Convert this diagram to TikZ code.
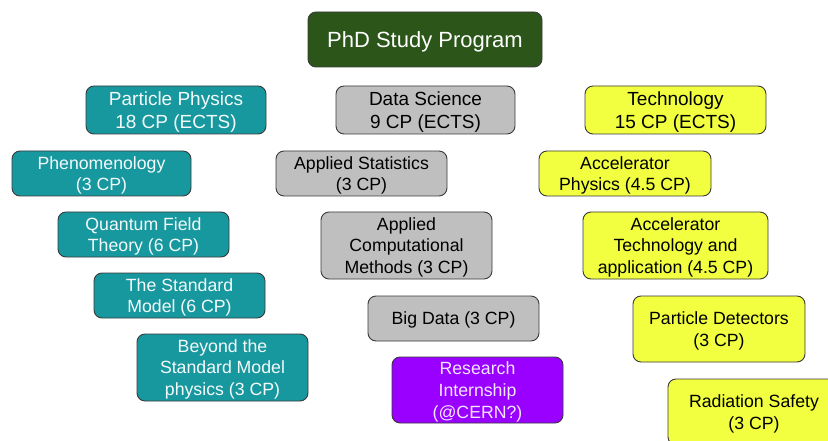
\documentclass[tikz,border=0pt]{standalone}
\usepackage{fontspec}
\setmainfont{Liberation Sans}
\definecolor{titlegreen}{HTML}{2B5519}
\definecolor{teal}{HTML}{17989F}
\definecolor{boxgray}{HTML}{BFBFBF}
\definecolor{boxyellow}{HTML}{F2FF40}
\definecolor{boxpurple}{HTML}{9900FF}
\definecolor{edge}{HTML}{3A3A3A}
\tikzset{
  box/.style={draw=edge, line width=0.9pt, rounded corners=8pt, align=center, inner sep=0pt, text depth=-1pt},
  titlebox/.style={box, fill=titlegreen, text=white, font=\fontsize{22}{26}\selectfont},
  cat/.style={box, font=\fontsize{19}{23}\selectfont, minimum height=48pt},
  course/.style={box, font=\fontsize{17.7}{21.7}\selectfont},
  pp/.style={fill=teal, text=white!95!teal},
  ds/.style={fill=boxgray, text=black},
  te/.style={fill=boxyellow, text=black},
  ri/.style={fill=boxpurple, text=white!90!boxpurple},
}
\begin{document}
\begin{tikzpicture}[x=1pt,y=-1pt]
\useasboundingbox (0,0) rectangle (828,441);
\clip (0,0) rectangle (828,441);
\fill[white] (0,0) rectangle (828,441);

\node[titlebox, minimum width=234pt, minimum height=55pt] (title) at (425,39.5) {PhD Study Program};

\node[cat, pp, minimum width=180pt] (pp) at (176,110) {Particle Physics\\18 CP (ECTS)};
\node[cat, ds, minimum width=179pt] (ds) at (425.5,110) {Data Science\\9 CP (ECTS)};
\node[cat, te, minimum width=181pt] (te) at (675.5,110) {Technology\\15 CP (ECTS)};

\node[course, pp, minimum width=179pt, minimum height=45pt] (phen) at (101.5,173.5) {Phenomenology\\(3 CP)};
\node[course, pp, minimum width=171pt, minimum height=45pt] (qft) at (143.5,234.5) {Quantum Field\\Theory (6 CP)};
\node[course, pp, minimum width=171pt, minimum height=45pt] (sm) at (179.5,295.5) {The Standard\\Model (6 CP)};
\node[course, pp, minimum width=171pt, minimum height=67pt] (bsm) at (222.5,367.5) {Beyond the\\Standard Model\\physics (3 CP)};

\node[course, ds, minimum width=171pt, minimum height=45pt] (stat) at (361.5,173.5) {Applied Statistics\\(3 CP)};
\node[course, ds, minimum width=171pt, minimum height=67pt] (acm) at (406.5,245.5) {Applied\\Computational\\Methods (3 CP)};
\node[course, ds, minimum width=171pt, minimum height=45pt] (bd) at (453.5,318.5) {Big Data (3 CP)};
\node[course, ri, minimum width=171pt, minimum height=66pt] (ri) at (477.5,390) {Research\\Internship\\(@CERN?)};

\node[course, te, minimum width=172pt, minimum height=45pt] (accp) at (625,173.5) {Accelerator\\Physics (4.5 CP)};
\node[course, te, minimum width=185pt, minimum height=67pt] (acct) at (675.5,245.5) {Accelerator\\Technology and\\application (4.5 CP)};
\node[course, te, minimum width=172pt, minimum height=66pt] (pd) at (719,329) {Particle Detectors\\(3 CP)};
\node[course, te, minimum width=172pt, minimum height=66pt] (rs) at (754,412) {Radiation Safety\\(3 CP)};
\end{tikzpicture}
\end{document}
